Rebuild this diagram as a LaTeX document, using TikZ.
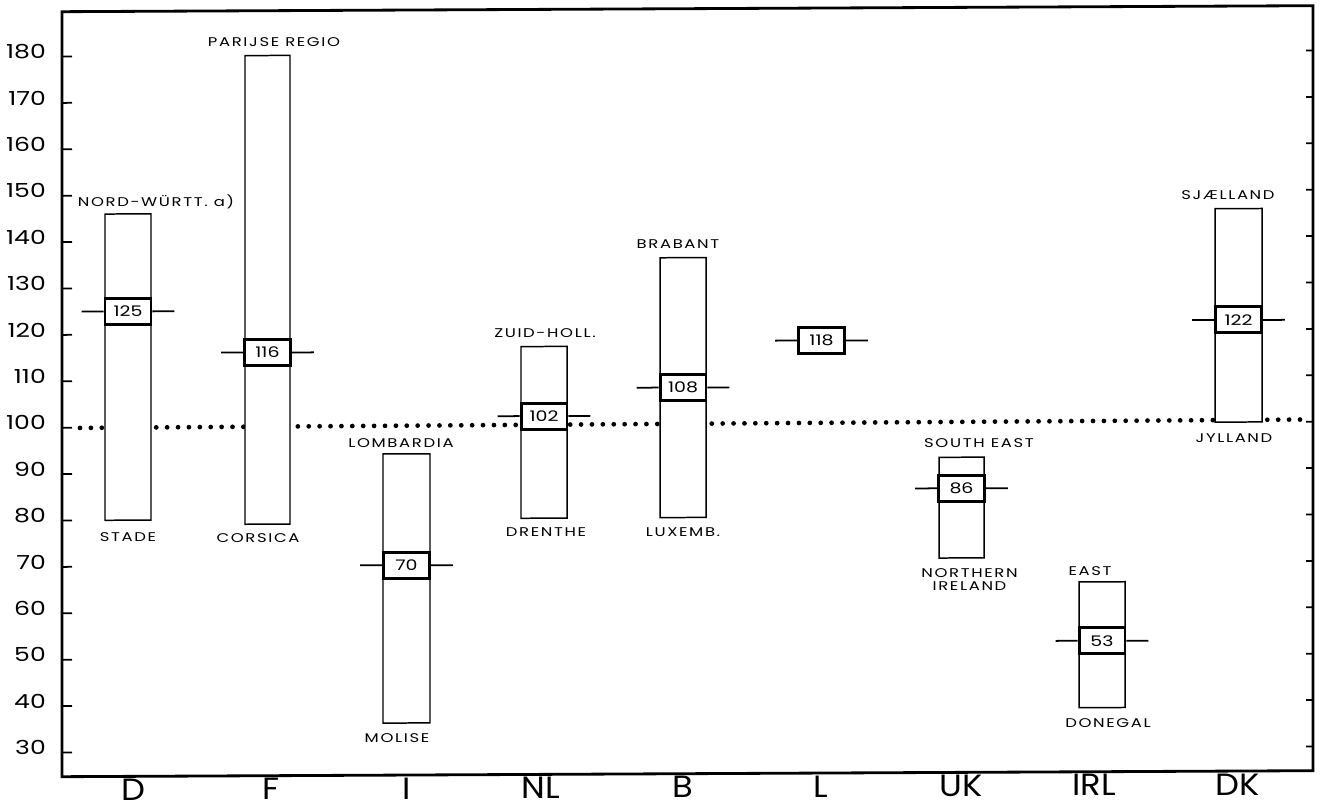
\documentclass[tikz,border=0pt]{standalone}
\usepackage{fontspec}
\setmainfont{Poppins}[FakeStretch=1.3]
\newfontfamily\labfont{Poppins}[FakeStretch=1.3]
\newfontfamily\lblfont{Poppins}[FakeStretch=1.3,LetterSpace=13]
\newfontfamily\ctryfont{Poppins}[FakeStretch=1.1]
\begin{document}
\begin{tikzpicture}[x=0.02cm,y=-0.02cm,
  declare function={yv(\v)=428-4.64*(\v-100);},
  frame/.style={line width=1.6pt},
  tickl/.style={line width=1pt},
  dotline/.style={line width=2.7pt,line cap=round,dash pattern=on 0pt off 6.2pt},
  barbox/.style={draw,fill=white,line width=0.85pt},
  medbox/.style={draw,fill=white,line width=1.7pt,minimum width=0.92cm,minimum height=0.52cm,inner sep=0pt,font=\labfont\fontsize{8.3}{9}\selectfont},
  whisk/.style={line width=1pt},
  axnum/.style={anchor=east,font=\fontsize{11}{12}\selectfont},
  ctry/.style={anchor=base,inner sep=0pt,font=\ctryfont\fontsize{17.5}{20}\selectfont},
  lbl/.style={font=\lblfont\fontsize{7.2}{8.5}\selectfont,align=center}]
\fill[white] (0,0) rectangle (1320,810);
\useasboundingbox (0,0) rectangle (1320,810);
\begin{scope}[yslant=0.0048]
% frame
\draw[frame] (62,12) rectangle (1313,777);
% ticks and axis numbers
\foreach \v in {30,40,...,180}{
  \draw[tickl] (62,{yv(\v)}) -- (72,{yv(\v)});
  \draw[tickl] (1313,{yv(\v)}) -- (1306,{yv(\v)});
  \node[axnum] (ax\v) at (52,{yv(\v)-5}) {\v};
}
% reference line at 100
\draw[dotline] (80,428.3) -- (1300,425.8);
% bars
\draw[barbox] (105,{yv(146)}) rectangle (151,{yv(80)});
\draw[barbox] (245,{yv(180)}) rectangle (290,{yv(79)});
\draw[barbox] (383,{yv(94)}) rectangle (430,{yv(36)});
\draw[barbox] (521,{yv(117)}) rectangle (567,{yv(80)});
\draw[barbox] (660,{yv(136)}) rectangle (706,{yv(80)});
\draw[barbox] (939,{yv(92.7)}) rectangle (984,{yv(71)});
\draw[barbox] (1079,{yv(65.7)}) rectangle (1125,{yv(38.6)});
\draw[barbox] (1215,{yv(146)}) rectangle (1262,{yv(100)});
% median boxes
\node[medbox] (mD) at (128,{yv(125)}) {125};
\node[medbox] (mF) at (267.5,{yv(116)}) {116};
\node[medbox] (mI) at (406.5,{yv(70)}) {70};
\node[medbox] (mNL) at (544,{yv(102)}) {102};
\node[medbox] (mB) at (683,{yv(108)}) {108};
\node[medbox] (mL) at (821.5,{yv(118)}) {118};
\node[medbox] (mUK) at (961.5,{yv(86)}) {86};
\node[medbox] (mIRL) at (1102,{yv(53)}) {53};
\node[medbox] (mDK) at (1238.5,{yv(122)}) {122};
\foreach \m in {mD,mF,mI,mNL,mB,mL,mUK,mIRL,mDK}{
  \draw[whisk] (\m.west) -- ++(-22,0);
  \draw[whisk] (\m.east) -- ++(22,0);
}
% region labels
\node[lbl] (tD) at (156,202.5) {NORD-WÜRTT. a)};
\node[lbl] (bD) at (128,537.3) {STADE};
\node[lbl] (tF) at (274,43) {PARIJSE REGIO};
\node[lbl] (bF) at (258,539) {CORSICA};
\node[lbl] (tI) at (401,444.6) {LOMBARDIA};
\node[lbl] (bI) at (397,739.6) {MOLISE};
\node[lbl] (tNL) at (545,335.3) {ZUID-HOLL.};
\node[lbl] (bNL) at (546,534.3) {DRENTHE};
\node[lbl] (tB) at (678,247) {BRABANT};
\node[lbl] (bB) at (683,535) {LUXEMB.};
\node[lbl] (tUK) at (979,447.4) {SOUTH EAST};
\node[lbl] (bUK) at (969.5,584) {NORTHERN\\[-1pt]IRELAND};
\node[lbl] (tIRL) at (1090,576) {EAST};
\node[lbl] (bIRL) at (1108,728) {DONEGAL};
\node[lbl] (tDK) at (1228,200.6) {SJÆLLAND};
\node[lbl] (bDK) at (1234,443.6) {JYLLAND};
% country labels
\node[ctry] (cD) at (133,801) {D};
\node[ctry] (cF) at (271,801) {F};
\node[ctry] (cI) at (407,801) {I};
\node[ctry] (cNL) at (541,801) {NL};
\node[ctry] (cB) at (683,801) {B};
\node[ctry] (cL) at (821,801) {L};
\node[ctry] (cUK) at (961,801) {UK};
\node[ctry] (cIRL) at (1094,801) {IRL};
\node[ctry] (cDK) at (1238,801) {DK};
\end{scope}
\end{tikzpicture}
\end{document}
